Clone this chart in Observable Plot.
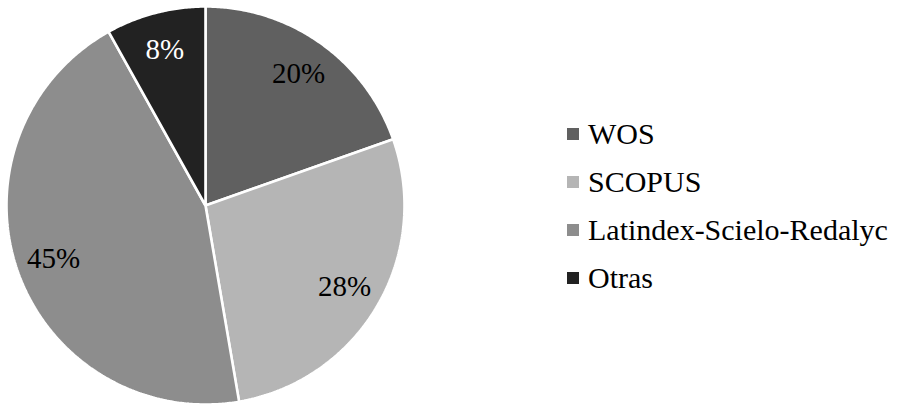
<!DOCTYPE html>
<html>
<head>
<meta charset="utf-8">
<script src="https://cdn.jsdelivr.net/npm/d3@7"></script>
<script src="https://cdn.jsdelivr.net/npm/@observablehq/plot@0.6"></script>
<style>
  html, body { margin: 0; padding: 0; background: #fff; }
  #wrap { position: relative; width: 898px; height: 406px; }
  #wrap svg { position: absolute; left: 0; top: 0; }
  #legend { position: absolute; left: 567px; top: 110px; font-family: 'Liberation Serif'; }
  .row { display: flex; align-items: center; height: 48px; line-height: 48px; font-size: 30px; color: #000; white-space: nowrap; font-family: 'Liberation Serif'; }
  .sw { width: 12px; height: 12px; margin-right: 9px; flex-shrink: 0; }
</style>
</head>
<body>
<div id="wrap"></div>
<script>
// Data
const categories = ["WOS", "SCOPUS", "Latindex-Scielo-Redalyc", "Otras"];
const shares = [19.6, 27.7, 44.6, 8.1]; // percent

// Palette (style, kept apart from data)
const palette = ["#606060", "#b5b5b5", "#8d8d8d", "#222222"];

const total = d3.sum(shares);
const TAU = 2 * Math.PI;

// Slice angles, clockwise from 12 o'clock
const slices = [];
let acc = 0;
categories.forEach((key, i) => {
  const a0 = acc / total * TAU;
  acc += shares[i];
  const a1 = acc / total * TAU;
  slices.push({key, value: shares[i], a0, a1, mid: (a0 + a1) / 2});
});

// Outline polygon of each slice (center + arc) in unit coordinates
const outline = [];
for (const s of slices) {
  outline.push({key: s.key, x: 0, y: 0});
  const n = Math.max(2, Math.ceil((s.a1 - s.a0) / (Math.PI / 360)));
  for (let k = 0; k <= n; ++k) {
    const a = s.a0 + (s.a1 - s.a0) * k / n;
    outline.push({key: s.key, x: Math.sin(a), y: Math.cos(a)});
  }
}

const labelR = 0.81;
const labels = slices.map(s => ({
  key: s.key,
  text: d3.format(".0%")(s.value / total),
  x: labelR * Math.sin(s.mid),
  y: labelR * Math.cos(s.mid)
}));

const colorOf = new Map(categories.map((c, i) => [c, palette[i]]));

const chart = Plot.plot({
  width: 898,
  height: 406,
  margin: 0,
  style: {fontFamily: "Liberation Serif", background: "transparent"},
  x: {domain: [-1, 1], range: [6, 404], axis: null},
  y: {domain: [-1, 1], range: [404, 6], axis: null},
  color: {domain: categories, range: palette},
  marks: [
    Plot.line(outline, {
      x: "x", y: "y", z: "key", fill: "key",
      stroke: "white", strokeWidth: 2.6, strokeLinejoin: "miter",
      curve: "linear-closed"
    }),
    Plot.text(labels, {
      x: "x", y: "y", text: "text",
      fontSize: 29,
      fontFamily: "Liberation Serif",
      fill: d => d3.lab(colorOf.get(d.key)).l < 35 ? "white" : "black"
    })
  ]
});

const wrap = document.getElementById("wrap");
wrap.appendChild(chart);

const legend = document.createElement("div");
legend.id = "legend";
categories.forEach((c, i) => {
  const row = document.createElement("div");
  row.className = "row";
  const sw = document.createElement("span");
  sw.className = "sw";
  sw.style.background = palette[i];
  const t = document.createElement("span");
  t.textContent = c;
  row.appendChild(sw);
  row.appendChild(t);
  legend.appendChild(row);
});
wrap.appendChild(legend);
</script>
</body>
</html>
